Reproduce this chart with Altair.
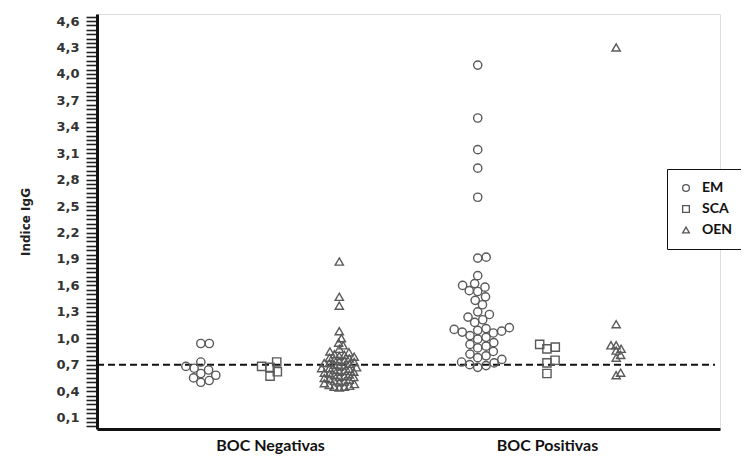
import math
import altair as alt
import pandas as pd

# ---- data ----
groups = ["BOC Negativas", "BOC Positivas"]
series = ["EM", "SCA", "OEN"]

neg_em = [0.94, 0.94, 0.73, 0.68, 0.66, 0.64, 0.60, 0.58, 0.55, 0.52, 0.50]
neg_sca = [0.73, 0.68, 0.67, 0.62, 0.57]
neg_oen = [1.87, 1.47, 1.37, 1.08, 1.00, 0.95, 0.92, 0.88, 0.85, 0.84, 0.82, 0.81,
           0.80, 0.79, 0.78, 0.77, 0.76, 0.75, 0.74, 0.73, 0.72, 0.72, 0.71, 0.70,
           0.69, 0.68, 0.67, 0.66, 0.66, 0.65, 0.64, 0.63, 0.62, 0.62, 0.61, 0.60,
           0.59, 0.58, 0.57, 0.56, 0.56, 0.55, 0.54, 0.53, 0.52, 0.51, 0.50, 0.49,
           0.48, 0.47, 0.46, 0.45, 0.45, 0.44]
pos_em = [4.10, 3.50, 3.14, 2.93, 2.60, 1.92, 1.91, 1.71, 1.62, 1.60, 1.58, 1.54,
          1.53, 1.47, 1.43, 1.38, 1.30, 1.27, 1.24, 1.21, 1.18, 1.12, 1.11, 1.10,
          1.09, 1.08, 1.07, 1.06, 1.03, 1.01, 0.99, 0.95, 0.93, 0.91, 0.89, 0.85,
          0.82, 0.80, 0.78, 0.76, 0.73, 0.72, 0.70, 0.69, 0.67]
pos_sca = [0.93, 0.90, 0.88, 0.75, 0.72, 0.60]
pos_oen = [4.30, 1.16, 0.92, 0.92, 0.88, 0.86, 0.81, 0.78, 0.61, 0.58]

cutoff = 0.7
y_major = [0.1, 0.4, 0.7, 1.0, 1.3, 1.6, 1.9, 2.2, 2.5, 2.8, 3.1, 3.4, 3.7, 4.0, 4.3, 4.6]

# ---- layout ----
W, H = 623, 415
Y_DOM = [-0.03, 4.68]
X_DOM = [0, 9]
PX_Y = H / (Y_DOM[1] - Y_DOM[0])
PX_X = W / (X_DOM[1] - X_DOM[0])


def swarm(vals, d):
    """simple beeswarm: horizontal pixel offsets so markers do not overlap"""
    placed = []
    out = [0.0] * len(vals)
    for i in sorted(range(len(vals)), key=lambda k: vals[k]):
        y = vals[i] * PX_Y
        cands = [0.0]
        for px, py in placed:
            dy = abs(py - y)
            if dy < d:
                dx = math.sqrt(d * d - dy * dy)
                cands += [px + dx, px - dx]
        cands.sort(key=abs)
        pick = 0.0
        for c in cands:
            if all((c - px) ** 2 + (y - py) ** 2 >= d * d - 1e-6 for px, py in placed):
                pick = c
                break
        placed.append((pick, y))
        out[i] = pick
    return out


sets = [
    ("BOC Negativas", "EM", neg_em),
    ("BOC Negativas", "SCA", neg_sca),
    ("BOC Negativas", "OEN", neg_oen),
    ("BOC Positivas", "EM", pos_em),
    ("BOC Positivas", "SCA", pos_sca),
    ("BOC Positivas", "OEN", pos_oen),
]
spacing = {"EM": 8.5, "SCA": 8.5, "OEN": 5.2}
rows = []
for g, s, vals in sets:
    center = 1.5 + groups.index(g) * 4 + series.index(s)
    offs = swarm(vals, spacing[s])
    for v, o in zip(vals, offs):
        rows.append({"grupo": g, "serie": s, "valor": v, "xpos": center + o / PX_X})
df = pd.DataFrame(rows)

FONT = "Lato"
FONT_AX = "DejaVu Sans"
tick_vals = [round(0.0 + 0.05 * i, 2) for i in range(0, 94)]
major_expr = "indexof([" + ",".join(f"{v:.2f}" for v in y_major) + "], round(datum.value*100)/100) >= 0"

x_scale = alt.Scale(domain=X_DOM, nice=False, zero=False)
y_scale = alt.Scale(domain=Y_DOM, nice=False, zero=False)

points = alt.Chart(df).mark_point(filled=False, size=68, strokeWidth=1.4, color="#5a5a5a", opacity=1).encode(
    x=alt.X("xpos:Q", scale=x_scale, title=None,
            axis=alt.Axis(values=[2.5, 6.5],
                          labelExpr="datum.value < 4 ? 'BOC Negativas' : 'BOC Positivas'",
                          tickSize=0, grid=False, domainColor="#111", domainWidth=3,
                          labelFont=FONT, labelFontSize=16, labelFontWeight="bold",
                          labelColor="#111", labelPadding=8)),
    y=alt.Y("valor:Q", scale=y_scale, title="Indice IgG",
            axis=alt.Axis(values=tick_vals, tickCount=200, labelOverlap=False,
                          labelExpr=f"({major_expr}) ? replace(format(datum.value, '.1f'), '.', ',') : ''",
                          tickSize=11, tickWidth=1.6, tickColor="#222", grid=False,
                          domainColor="#111", domainWidth=3,
                          labelFont=FONT_AX, labelFontSize=13, labelFontWeight="bold",
                          labelColor="#333", labelPadding=7,
                          titleFont=FONT_AX, titleFontSize=12, titleFontWeight="bold",
                          titleColor="#222", titlePadding=23)),
    shape=alt.Shape("serie:N",
                    scale=alt.Scale(domain=series, range=["circle", "square", "triangle-up"]),
                    legend=alt.Legend(title=None, orient="none", legendX=570, legendY=155,
                                      strokeColor="#111", fillColor="white", padding=12,
                                      labelFont=FONT, labelFontSize=14, labelFontWeight="bold",
                                      labelColor="#111", symbolStrokeColor="#555",
                                      symbolStrokeWidth=1.3, symbolSize=45, rowPadding=7,
                                      labelOffset=9, symbolOffset=0)),
)

rule = alt.Chart(pd.DataFrame({"c": [cutoff]})).mark_rule(
    color="#111", strokeWidth=2, strokeDash=[7, 4]
).encode(y=alt.Y("c:Q", scale=y_scale), x=alt.value(0), x2=alt.value(W - 5))

chart = alt.layer(rule, points).properties(
    width=W, height=H,
    autosize=alt.AutoSizeParams(type="none"),
    padding={"left": 89, "top": 6, "right": 21, "bottom": 29},
).configure_view(stroke=None).configure(background="white")

chart.save("out.html", embed_options={"renderer": "svg", "actions": False})
